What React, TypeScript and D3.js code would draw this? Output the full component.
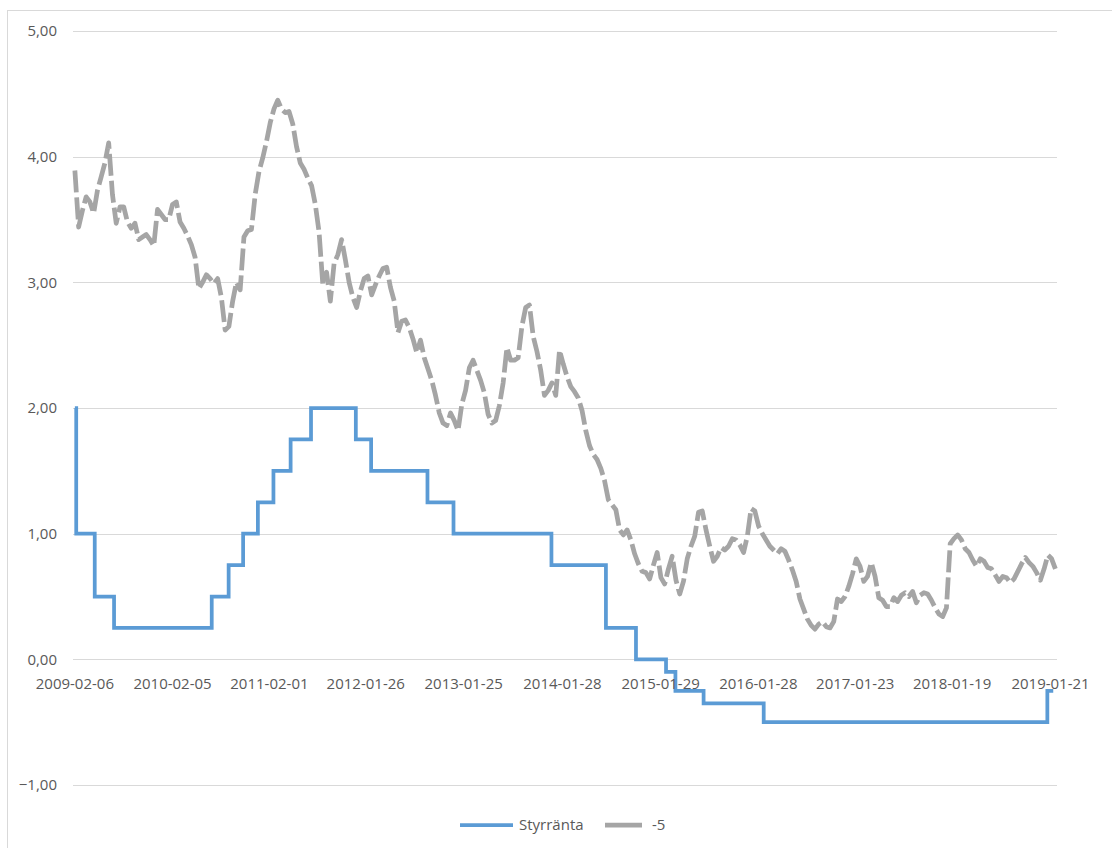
import React from "react";
import * as d3 from "d3";

// Repo rate (Styrränta): date the new rate applies, and the rate in percent
const rateDates = [
  "2009-02-06", "2009-02-11", "2009-04-21", "2009-07-02", "2010-07-01", "2010-09-02",
  "2010-10-26", "2010-12-20", "2011-02-16", "2011-04-21", "2011-07-06", "2011-12-20",
  "2012-02-15", "2012-09-12", "2012-12-18", "2013-12-18", "2014-07-09", "2014-10-29",
  "2015-02-18", "2015-03-25", "2015-07-08", "2016-02-17", "2019-01-09", "2019-01-31",
];
const rateValues = [
  2.0, 1.0, 0.5, 0.25, 0.5, 0.75, 1.0, 1.25, 1.5, 1.75, 2.0, 1.75, 1.5, 1.25, 1.0,
  0.75, 0.25, 0.0, -0.1, -0.25, -0.35, -0.5, -0.25, -0.25,
];

// 5-year yield, sampled every second week from the first date
const yieldStart = "2009-02-06";
const yieldStepDays = 14;
const yieldValues = [
  3.89, 3.44, 3.57, 3.68, 3.64, 3.55, 3.73, 3.84, 3.95, 4.11, 3.7, 3.47, 3.6, 3.6, 3.48,
  3.43, 3.47, 3.34, 3.36, 3.38, 3.34, 3.29, 3.58, 3.54, 3.5, 3.5, 3.62, 3.64, 3.48, 3.43,
  3.37, 3.3, 3.2, 2.95, 3.0, 3.06, 3.03, 2.99, 3.03, 2.88, 2.62, 2.65, 2.85, 3.0, 2.94,
  3.36, 3.41, 3.42, 3.7, 3.88, 3.99, 4.12, 4.27, 4.38, 4.45, 4.38, 4.35, 4.36, 4.26, 4.08,
  3.95, 3.9, 3.83, 3.77, 3.62, 3.4, 2.98, 3.08, 2.85, 3.15, 3.22, 3.34, 3.18, 3.0, 2.88,
  2.8, 2.93, 3.03, 3.05, 2.9, 2.98, 3.05, 3.11, 3.12, 2.96, 2.85, 2.6, 2.69, 2.7, 2.64,
  2.55, 2.44, 2.54, 2.4, 2.31, 2.22, 2.1, 1.96, 1.88, 1.86, 1.96, 1.9, 1.82, 2.03, 2.14,
  2.32, 2.38, 2.3, 2.22, 2.12, 1.95, 1.88, 1.9, 2.02, 2.2, 2.48, 2.38, 2.38, 2.4, 2.65,
  2.8, 2.82, 2.57, 2.45, 2.3, 2.1, 2.14, 2.2, 2.1, 2.46, 2.35, 2.25, 2.17, 2.13, 2.08,
  1.98, 1.82, 1.7, 1.63, 1.59, 1.52, 1.42, 1.27, 1.23, 1.19, 1.03, 0.99, 1.03, 0.95, 0.84,
  0.76, 0.7, 0.69, 0.64, 0.75, 0.85, 0.65, 0.6, 0.72, 0.82, 0.63, 0.52, 0.62, 0.8, 0.9,
  0.98, 1.17, 1.18, 1.03, 0.9, 0.78, 0.82, 0.89, 0.87, 0.9, 0.96, 0.95, 0.91, 0.85, 0.98,
  1.2, 1.18, 1.06, 1.0, 0.95, 0.9, 0.87, 0.84, 0.88, 0.86, 0.79, 0.71, 0.62, 0.48, 0.4,
  0.32, 0.27, 0.24, 0.28, 0.3, 0.26, 0.25, 0.3, 0.48, 0.46, 0.5, 0.58, 0.68, 0.8, 0.74,
  0.62, 0.66, 0.77, 0.66, 0.49, 0.47, 0.42, 0.42, 0.49, 0.46, 0.51, 0.53, 0.5, 0.54, 0.45,
  0.51, 0.53, 0.52, 0.47, 0.41, 0.36, 0.34, 0.41, 0.92, 0.96, 0.99, 0.95, 0.88, 0.85, 0.79,
  0.74, 0.8, 0.78, 0.73, 0.72, 0.67, 0.62, 0.66, 0.65, 0.61, 0.64, 0.7, 0.76, 0.81, 0.77,
  0.74, 0.69, 0.63, 0.72, 0.83, 0.8, 0.72,
];

// Category labels along the time axis
const xTickLabels = [
  "2009-02-06", "2010-02-05", "2011-02-01", "2012-01-26", "2013-01-25", "2014-01-28",
  "2015-01-29", "2016-01-28", "2017-01-23", "2018-01-19", "2019-01-21",
];
const yTickValues = [-1, 0, 1, 2, 3, 4, 5];

const seriesNames = ["Styrränta", "-5"];

const W = 1112;
const H = 848;
const FONT = "'Open Sans', 'Noto Sans', sans-serif";
const TEXT = "#595959";
const GRID = "#d9d9d9";
const BLUE = "#5b9bd5";
const GREY = "#a5a5a5";

const parse = d3.utcParse("%Y-%m-%d");
const sv = d3.formatLocale({ decimal: ",", thousands: " ", grouping: [3], currency: ["", " kr"] });
const fmt = sv.format(".2f");

export default function App() {
  const x = d3
    .scaleUtc()
    .domain([parse("2009-01-30") as Date, parse("2019-02-14") as Date])
    .range([73, 1057]);
  const y = d3.scaleLinear().domain([-1, 5]).range([785, 31]);

  const rate = rateDates.map((d, i) => ({ date: parse(d) as Date, v: rateValues[i] }));
  const start = parse(yieldStart) as Date;
  const yld = yieldValues.map((v, i) => ({ date: d3.utcDay.offset(start, i * yieldStepDays), v }));

  const rateLine = d3
    .line<{ date: Date; v: number }>()
    .x((d) => x(d.date))
    .y((d) => y(d.v))
    .curve(d3.curveStepAfter);
  const yieldLine = d3
    .line<{ date: Date; v: number }>()
    .x((d) => x(d.date))
    .y((d) => y(d.v));

  const [x0, x1] = x.range();

  return (
    <svg
      width={W}
      height={H}
      style={{ position: "absolute", left: 0, top: 0, background: "#fff" }}
      fontFamily={FONT}
    >
      <rect x={7.5} y={10.5} width={W} height={H} fill="#fff" stroke={GRID} />
      {yTickValues.map((t) => (
        <g key={t}>
          <line x1={x0} x2={x1} y1={Math.round(y(t)) + 0.5} y2={Math.round(y(t)) + 0.5} stroke={GRID} strokeWidth={1} />
          <text x={57} y={y(t)} dy="0.35em" textAnchor="end" fontSize={15} fill={TEXT}>
            {fmt(t)}
          </text>
        </g>
      ))}
      <path
        d={yieldLine(yld) ?? ""}
        fill="none"
        stroke={GREY}
        strokeWidth={4.75}
        strokeDasharray="22 5"
        strokeLinejoin="round"
      />
      <path d={rateLine(rate) ?? ""} fill="none" stroke={BLUE} strokeWidth={3.75} strokeLinejoin="miter" />
      {xTickLabels.map((l) => (
        <text key={l} x={x(parse(l) as Date)} y={684} dy="0.35em" textAnchor="middle" fontSize={15} fill={TEXT}>
          {l}
        </text>
      ))}
      <g>
        <line x1={460} x2={513} y1={825} y2={825} stroke={BLUE} strokeWidth={3.75} />
        <text x={519} y={825} dy="0.35em" fontSize={15} fill={TEXT}>
          {seriesNames[0]}
        </text>
        <line x1={605} x2={642} y1={825} y2={825} stroke={GREY} strokeWidth={4.75} />
        <text x={652} y={825} dy="0.35em" fontSize={15} fill={TEXT}>
          {seriesNames[1]}
        </text>
      </g>
    </svg>
  );
}
